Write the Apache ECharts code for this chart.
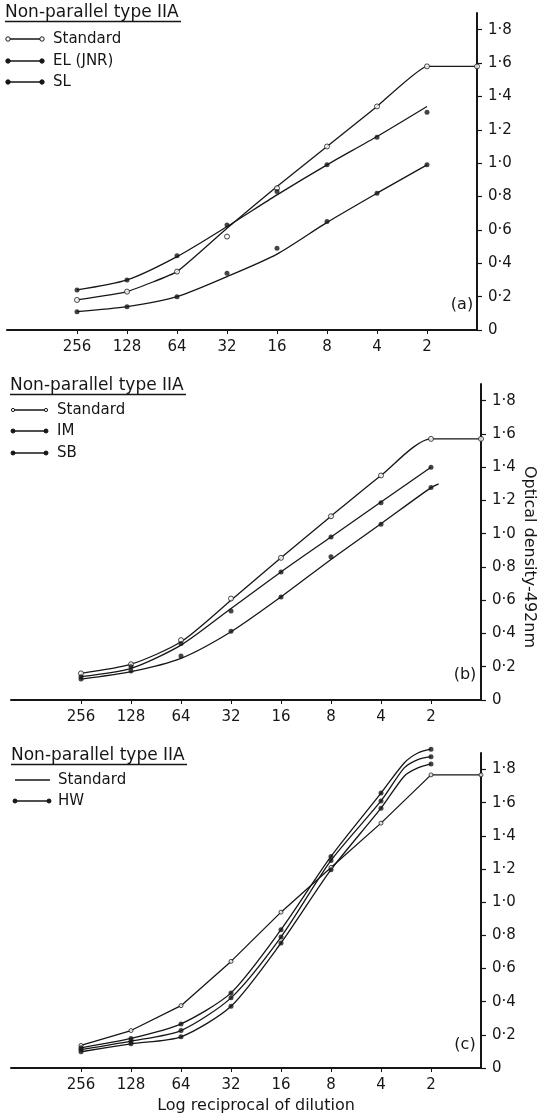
<!DOCTYPE html>
<html><head><meta charset="utf-8">
<script src="https://cdn.jsdelivr.net/npm/echarts@6/dist/echarts.min.js"></script>
<style>html,body{margin:0;padding:0;background:#fff}#c{width:537px;height:1118px}</style>
</head><body><div id="c"></div>
<script>
// ---------- data ----------
const dilutions = [256, 128, 64, 32, 16, 8, 4, 2];
const plateauDilution = 1;
const yTicks = [0, 0.2, 0.4, 0.6, 0.8, 1.0, 1.2, 1.4, 1.6, 1.8];
const panelTitle = 'Non-parallel type IIA';
const panelTags = ['(a)', '(b)', '(c)'];
const xAxisTitle = 'Log reciprocal of dilution';
const yAxisTitle = 'Optical density-492nm';

// Panel (a)
const aLegend = ['Standard', 'EL (JNR)', 'SL'];
const aStandardPts = [0.18, 0.23, 0.35, 0.56, 0.85, 1.10, 1.34, 1.58];
const aStandardLine = [0.18, 0.23, 0.35, 0.61, 0.86, 1.10, 1.34, 1.58];
const aStandardPlateau = 1.58;
const aElPts = [0.24, 0.30, 0.445, 0.63, 0.83, 0.99, 1.155, 1.305];
const aElLine = [0.24, 0.30, 0.44, 0.62, 0.81, 0.99, 1.16, 1.34];
const aSlPts = [0.11, 0.14, 0.20, 0.34, 0.49, 0.65, 0.82, 0.99];
const aSlLine = [0.11, 0.14, 0.20, 0.32, 0.455, 0.645, 0.82, 0.99];

// Panel (b)
const bLegend = ['Standard', 'IM', 'SB'];
const bStandardPts = [0.16, 0.215, 0.36, 0.61, 0.855, 1.105, 1.35, 1.57];
const bStandardLine = [0.16, 0.215, 0.35, 0.60, 0.855, 1.105, 1.35, 1.57];
const bStandardPlateau = 1.57;
const bImPts = [0.14, 0.20, 0.34, 0.535, 0.77, 0.98, 1.186, 1.40];
const bImLine = [0.14, 0.19, 0.33, 0.55, 0.77, 0.98, 1.19, 1.40];
const bSbPts = [0.126, 0.174, 0.265, 0.413, 0.62, 0.862, 1.056, 1.277];
const bSbLine = [0.125, 0.17, 0.25, 0.41, 0.62, 0.845, 1.06, 1.277];
const bSbLineEndDilution = 1.8;
const bSbLineEnd = 1.30;

// Panel (c)
const cLegend = ['Standard', 'HW'];
const cStandardPts = [0.136, 0.226, 0.376, 0.643, 0.94, 1.21, 1.477, 1.768];
const cStandardPlateau = 1.768;
const cHwShoulderDilutions = [2.9, 2.4];
const cHw1 = [0.122, 0.178, 0.266, 0.453, 0.834, 1.276, 1.658, 1.923];
const cHw1Shoulder = [1.84, 1.90];
const cHw2 = [0.111, 0.162, 0.226, 0.423, 0.79, 1.252, 1.611, 1.878];
const cHw2Shoulder = [1.81, 1.86];
const cHw3 = [0.098, 0.146, 0.188, 0.372, 0.754, 1.196, 1.567, 1.834];
const cHw3Shoulder = [1.76, 1.81];

// ---------- helpers ----------
const INK = '#161616';
const FONT = 'DejaVu Sans';
const pos = d => -Math.log2(d);
const pairs = (dils, vals) => dils.map((d, i) => [pos(d), vals[i]]);

function lineS(g, data, smooth) {
  return { type: 'line', xAxisIndex: g, yAxisIndex: g, data, symbol: 'none', showSymbol: false,
    smooth: smooth, silent: true, z: 2, clip: false,
    lineStyle: { color: INK, width: 1.3 } };
}
function ptsS(g, data, open, size) {
  return { type: 'scatter', xAxisIndex: g, yAxisIndex: g, data, symbol: 'circle', symbolSize: size,
    silent: true, z: 3, clip: false,
    itemStyle: { color: open ? '#fff' : INK, borderColor: INK, borderWidth: open ? 1 : 0 } };
}

const grids = [
  { left: 7, right: 60, top: 13, height: 317 },
  { left: 11, right: 56, top: 384, height: 316 },
  { left: 11, right: 56, top: 753, height: 315 }
];
const tickPos = dilutions.map(pos);

const xAxes = grids.map((g, i) => ({
  type: 'value', gridIndex: i, min: -9.4, max: 0,
  axisLine: { show: true, onZero: false, lineStyle: { color: INK, width: 2 } },
  axisTick: { show: true, customValues: tickPos, length: 4, lineStyle: { color: INK, width: 1 } },
  axisLabel: { show: true, customValues: tickPos, margin: 10, color: INK, fontFamily: FONT, fontSize: 15,
    formatter: v => String(Math.round(Math.pow(2, -v))) },
  splitLine: { show: false }
}));
const yAxes = grids.map((g, i) => ({
  type: 'value', gridIndex: i, min: 0, max: 1.9, position: 'right',
  axisLine: { show: true, onZero: false, lineStyle: { color: INK, width: 2 } },
  axisTick: { show: true, customValues: yTicks, inside: false, length: 5, lineStyle: { color: INK, width: 1.2 } },
  axisLabel: { show: true, customValues: yTicks, margin: 11, color: INK, fontFamily: FONT, fontSize: 15,
    formatter: v => (Math.abs(v) < 1e-9 ? '0' : v.toFixed(1).replace('.', '\u00B7')) },
  splitLine: { show: false }
}));

const withPlateau = d => d.concat([plateauDilution]);

const series = [
  // (a)
  lineS(0, pairs(withPlateau(dilutions), aStandardLine.concat([aStandardPlateau])), 0.12),
  ptsS(0, pairs(withPlateau(dilutions), aStandardPts.concat([aStandardPlateau])), true, 5),
  lineS(0, pairs(dilutions, aElLine), 0.25),
  ptsS(0, pairs(dilutions, aElPts), false, 5),
  lineS(0, pairs(dilutions, aSlLine), 0.25),
  ptsS(0, pairs(dilutions, aSlPts), false, 5),
  // (b)
  lineS(1, pairs(withPlateau(dilutions), bStandardLine.concat([bStandardPlateau])), 0.25),
  ptsS(1, pairs(withPlateau(dilutions), bStandardPts.concat([bStandardPlateau])), true, 5),
  lineS(1, pairs(dilutions, bImLine), 0.25),
  ptsS(1, pairs(dilutions, bImPts), false, 5),
  lineS(1, pairs(dilutions.concat([bSbLineEndDilution]), bSbLine.concat([bSbLineEnd])), 0.25),
  ptsS(1, pairs(dilutions, bSbPts), false, 5),
  // (c)
  lineS(2, pairs(withPlateau(dilutions), cStandardPts.concat([cStandardPlateau])), 0),
  ptsS(2, pairs(withPlateau(dilutions), cStandardPts.concat([cStandardPlateau])), true, 4),
];
[[cHw1, cHw1Shoulder], [cHw2, cHw2Shoulder], [cHw3, cHw3Shoulder]].forEach(([v, s]) => {
  const d = dilutions.slice(0, 7).concat(cHwShoulderDilutions).concat([2]);
  const vals = v.slice(0, 7).concat(s).concat([v[7]]);
  series.push(lineS(2, pairs(d, vals), 0.25));
  series.push(ptsS(2, pairs(dilutions, v), false, 5));
});

// ---------- legends & annotations (graphic) ----------
const graphic = [];
function txt(x, y, text, size, align, rot) {
  graphic.push({ type: 'text', x: x, y: y, rotation: rot || 0, silent: true,
    style: { text, fill: INK, font: (size || 16) + 'px "' + FONT + '"',
      textAlign: align || 'left', textVerticalAlign: 'middle', align: align || 'left', verticalAlign: 'middle' } });
}
function hline(x1, x2, y, w) {
  graphic.push({ type: 'line', silent: true, shape: { x1, y1: y, x2, y2: y }, style: { stroke: INK, lineWidth: w || 1.3 } });
}
function dot(x, y, r, open) {
  graphic.push({ type: 'circle', silent: true, shape: { cx: x, cy: y, r },
    style: { fill: open ? '#fff' : INK, stroke: INK, lineWidth: 1 }, z: 10 });
}
function legendBlock(x0, titleY, rows) {
  txt(x0, titleY, panelTitle, 17);
  hline(x0, x0 + 176, titleY + 8.5, 1.3);
  rows.forEach(r => {
    hline(r.x1, r.x2, r.y, 1.3);
    if (r.mark !== 'none') { dot(r.x1, r.y, r.r, r.mark === 'open'); dot(r.x2, r.y, r.r, r.mark === 'open'); }
    txt(r.tx, r.y, r.label, 15);
  });
}
legendBlock(5, 13, [
  { x1: 8, x2: 42, y: 39, r: 2.2, mark: 'open', tx: 53, label: aLegend[0] },
  { x1: 8, x2: 42, y: 61, r: 2.2, mark: 'fill', tx: 53, label: aLegend[1] },
  { x1: 8, x2: 42, y: 82, r: 2.2, mark: 'fill', tx: 53, label: aLegend[2] }
]);
legendBlock(10, 386, [
  { x1: 13, x2: 46, y: 410, r: 1.6, mark: 'open', tx: 57, label: bLegend[0] },
  { x1: 13, x2: 46, y: 431, r: 2, mark: 'fill', tx: 57, label: bLegend[1] },
  { x1: 13, x2: 46, y: 453, r: 2, mark: 'fill', tx: 57, label: bLegend[2] }
]);
legendBlock(11, 756, [
  { x1: 15, x2: 50, y: 780, r: 1, mark: 'none', tx: 58, label: cLegend[0] },
  { x1: 15, x2: 49, y: 801, r: 2, mark: 'fill', tx: 58, label: cLegend[1] }
]);
txt(462, 305, panelTags[0], 16, 'center');
txt(465, 675, panelTags[1], 16, 'center');
txt(465, 1045, panelTags[2], 16, 'center');
txt(256, 1106, xAxisTitle, 16, 'center');
txt(529, 557, yAxisTitle, 16, 'center', -Math.PI / 2);

const chart = echarts.init(document.getElementById('c'), null, { renderer: 'canvas' });
chart.setOption({
  animation: false,
  backgroundColor: '#fff',
  grid: grids,
  xAxis: xAxes,
  yAxis: yAxes,
  series: series,
  graphic: graphic
});
</script></body></html>
